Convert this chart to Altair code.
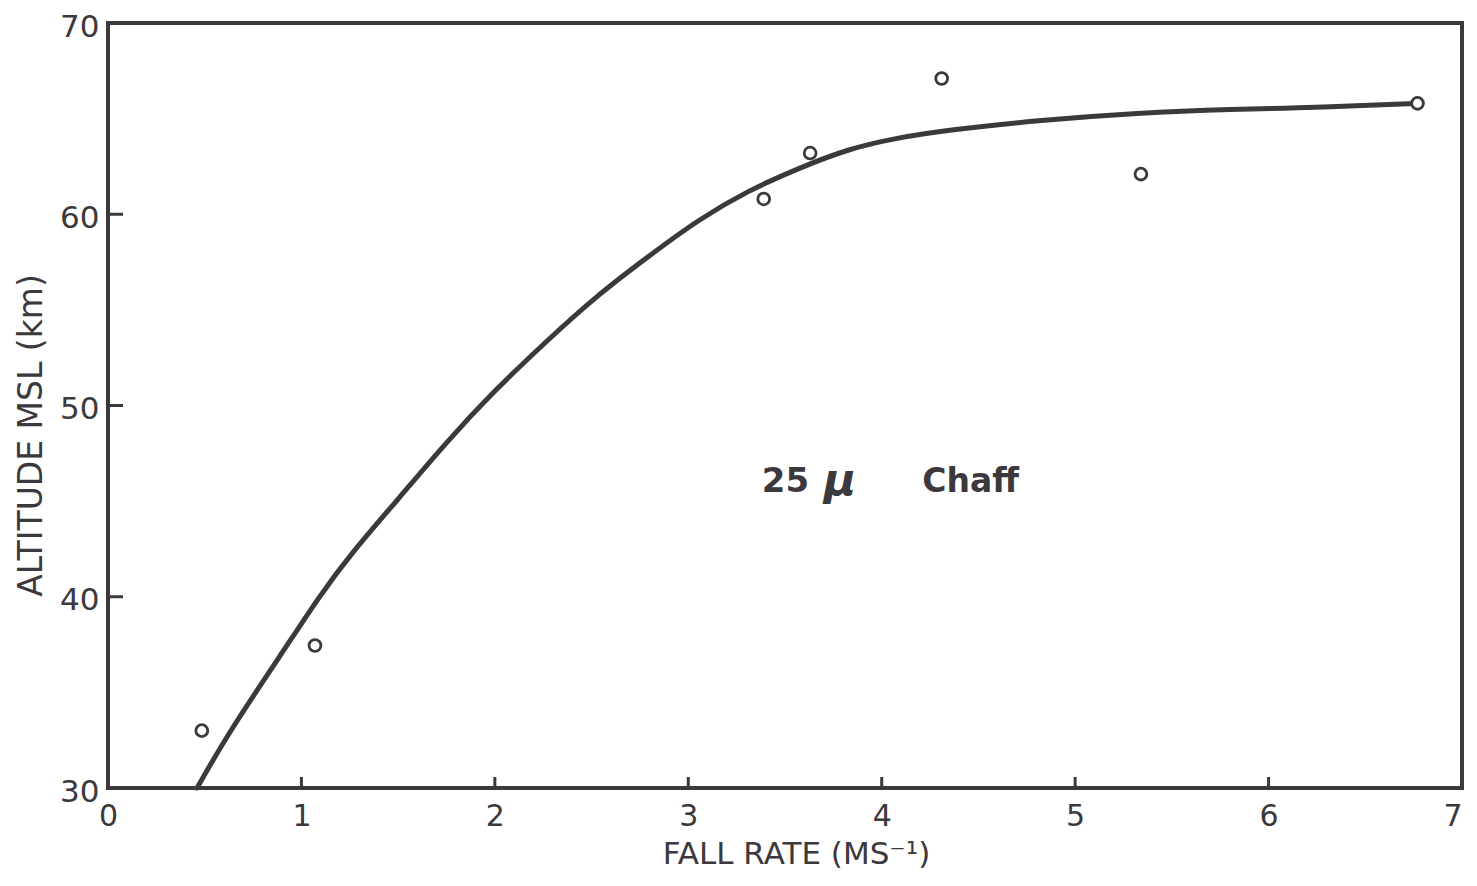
import altair as alt
import pandas as pd

# ---- data ----
curve_x = [0.46, 0.63, 0.89, 1.09, 1.26, 1.50, 1.75, 2.00, 2.26, 2.52, 2.82,
           3.05, 3.31, 3.57, 3.82, 4.08, 4.34, 4.80, 5.32, 5.84, 6.14, 6.50, 6.77]
curve_y = [30.0, 33.0, 36.9, 40.0, 42.3, 45.1, 48.1, 50.8, 53.3, 55.7, 58.0,
           59.7, 61.25, 62.4, 63.4, 64.0, 64.4, 64.9, 65.3, 65.5, 65.55, 65.7, 65.8]

obs_x = [0.485, 1.07, 3.39, 3.63, 4.31, 5.34, 6.77]
obs_y = [33.0, 37.45, 60.8, 63.2, 67.1, 62.1, 65.8]

x_ticks = [0, 1, 2, 3, 4, 5, 6, 7]
y_ticks = [30, 40, 50, 60, 70]
inner_x_ticks = [1, 2, 3, 4, 5, 6]
inner_y_ticks = [40, 50, 60]

label_num = ["25"]
label_mu = ["μ"]
label_word = ["Chaff"]
label_num_x = [3.38]
label_mu_x = [3.70]
label_word_x = [4.21]
label_y = [46.0]

INK = "#3b393b"
FONT = "DejaVu Sans"

W, H = 1354, 765

curve_df = pd.DataFrame({"x": curve_x, "y": curve_y})
obs_df = pd.DataFrame({"x": obs_x, "y": obs_y})
xt_df = pd.DataFrame({"x": inner_x_ticks})
yt_df = pd.DataFrame({"y": inner_y_ticks})
num_df = pd.DataFrame({"x": label_num_x, "y": label_y, "t": label_num})
mu_df = pd.DataFrame({"x": label_mu_x, "y": label_y, "t": label_mu})
word_df = pd.DataFrame({"x": label_word_x, "y": label_y, "t": label_word})

xs = alt.Scale(domain=[0, 7], nice=False, zero=False)
ys = alt.Scale(domain=[30, 70], nice=False, zero=False)

x_axis = alt.Axis(
    values=x_ticks, title="FALL RATE (MS⁻¹)", domain=False, ticks=False, grid=False,
    labelFont=FONT, labelFontSize=30, labelColor=INK, labelPadding=13,
    labelAlign=alt.expr("datum.value == 7 ? 'right' : 'center'"),
    labelFlush=False, labelOverlap=False, labelBound=False,
    titleFont=FONT, titleFontSize=31, titleFontWeight="normal", titleColor=INK,
    titleX=688, titleY=75, titleBaseline="alphabetic", titleAlign="center",
)
y_axis = alt.Axis(
    values=y_ticks, title="ALTITUDE MSL (km)", domain=False, ticks=False, grid=False,
    labelFont=FONT, labelFontSize=31, labelColor=INK, labelPadding=9, labelOffset=4,
    labelFlush=False, labelOverlap=False, labelBound=False,
    titleFont=FONT, titleFontSize=33, titleFontWeight="normal", titleColor=INK,
    titleX=-77, titleY=412, titleAngle=270, titleBaseline="middle", titleAlign="center",
)

X = alt.X("x:Q", scale=xs, axis=x_axis, title="FALL RATE (MS⁻¹)")
Y = alt.Y("y:Q", scale=ys, axis=y_axis, title="ALTITUDE MSL (km)")

curve = alt.Chart(curve_df).mark_line(
    color=INK, strokeWidth=5, interpolate="basis", strokeCap="round"
).encode(x=X, y=Y)

points = alt.Chart(obs_df).mark_point(
    shape="circle", filled=True, fill="white", fillOpacity=1, stroke=INK,
    strokeWidth=2.8, size=140, opacity=1
).encode(x=X, y=Y)

xticks = alt.Chart(xt_df).mark_rule(color=INK, strokeWidth=3).encode(
    x=X, y=alt.value(H), y2=alt.value(H - 11),
)
yticks = alt.Chart(yt_df).mark_rule(color=INK, strokeWidth=3).encode(
    y=Y, x=alt.value(0), x2=alt.value(15),
)

def note(df, style, size):
    return alt.Chart(df).mark_text(
        font=FONT, fontSize=size, fontWeight="bold", color=INK, align="left",
        baseline="middle", fontStyle=style
    ).encode(x=X, y=Y, text="t:N")

chart = alt.layer(
    curve, points, xticks, yticks,
    note(num_df, "normal", 34), note(mu_df, "italic", 44), note(word_df, "normal", 33),
).properties(
    width=W, height=H,
    autosize=alt.AutoSizeParams(type="none"),
    padding={"left": 100, "top": 15, "right": 5, "bottom": 86},
    background="white",
).configure_view(stroke=INK, strokeWidth=4)

chart.save("out.html", embed_options={"renderer": "svg", "actions": False})
